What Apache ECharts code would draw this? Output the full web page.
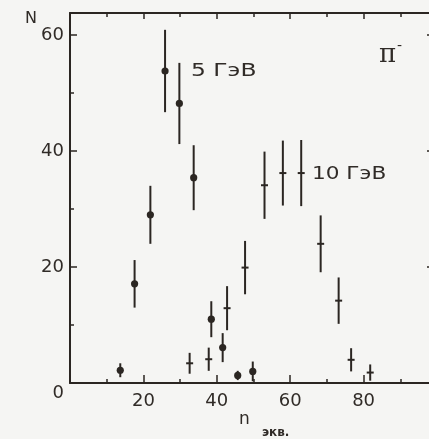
<!DOCTYPE html>
<html>
<head>
<meta charset="utf-8">
<script src="https://cdn.jsdelivr.net/npm/echarts@6/dist/echarts.min.js"></script>
<style>
  html, body { margin: 0; padding: 0; background: #f5f5f3; }
  #chart { width: 429px; height: 439px; }
</style>
</head>
<body>
<div id="chart"></div>
<script>
// π⁻ — распределение по n_экв, 5 и 10 ГэВ
const n5   = [13.7, 17.6, 21.9, 25.9, 29.8, 33.7, 38.5, 41.6, 45.7, 49.8];
const N5   = [2.2, 17.1, 29.0, 53.8, 48.2, 35.4, 11.0, 6.1, 1.3, 2.0];
const dN5  = [1.2, 4.1, 5.0, 7.1, 7.0, 5.6, 3.1, 2.5, 0.8, 1.7];

const n10  = [32.6, 37.8, 42.8, 47.7, 53.0, 58.0, 63.0, 68.3, 73.2, 76.6, 81.8];
const N10  = [3.4, 4.1, 12.9, 19.9, 34.1, 36.2, 36.2, 24.0, 14.2, 4.0, 1.8];
const dN10 = [1.8, 2.0, 3.8, 4.6, 5.8, 5.6, 5.7, 4.9, 4.0, 2.0, 1.4];

const xTicks = [20, 40, 60, 80];
const yTicks = [0, 20, 40, 60];

const INK = '#2b2622';
const TXT = '#302b27';
const FONT = 'DejaVu Sans';

const chart = echarts.init(document.getElementById('chart'), null, { renderer: 'canvas' });

// вертикальная ошибка + маркер (кружок или горизонтальная черта)
function errBar(kind) {
  return (params, api) => {
    const x = api.value(0), y = api.value(1), e = api.value(2);
    const p = api.coord([x, y]);
    const hi = api.coord([x, y + e]);
    const lo = api.coord([x, y - e]);
    const st = { stroke: INK, lineWidth: 2 };
    const kids = [{ type: 'line', shape: { x1: p[0], y1: hi[1], x2: p[0], y2: lo[1] }, style: st }];
    if (kind === 'dot') {
      kids.push({ type: 'circle', shape: { cx: p[0], cy: p[1], r: 3.6 }, style: { fill: INK } });
    } else {
      kids.push({ type: 'line', shape: { x1: p[0] - 3.5, y1: p[1], x2: p[0] + 3.5, y2: p[1] }, style: st });
    }
    return { type: 'group', children: kids };
  };
}

const axisLine = { show: true, onZero: false, lineStyle: { color: INK, width: 2 } };
const tickCommon = { show: true, inside: true, length: 8, lineStyle: { color: INK, width: 1.5 } };
const minorCommon = { show: true, splitNumber: 2, length: 4, lineStyle: { color: INK, width: 1.5 } };
const labelText = { color: TXT, fontSize: 18, fontFamily: FONT };

function note(text, x, y, font, sx) {
  return {
    type: 'text', x, y, scaleX: sx || 1,
    style: { text, font, fill: TXT, align: 'left', verticalAlign: 'middle' },
  };
}

chart.setOption({
  backgroundColor: '#f5f5f3',
  animation: false,
  grid: { left: 70, right: -8, top: 13, bottom: 56, outerBoundsMode: 'none', containLabel: false },
  xAxis: [
    {
      type: 'value', min: 0, max: 100, interval: 20, position: 'bottom',
      axisLine, axisTick: tickCommon, minorTick: minorCommon, splitLine: { show: false },
      axisLabel: {
        ...labelText, margin: 9, showMaxLabel: false,
        formatter: v => (xTicks.includes(v) ? String(v) : ''),
      },
    },
    {
      type: 'value', min: 0, max: 100, interval: 20, position: 'top',
      axisLine, axisTick: { ...tickCommon, length: 6 }, minorTick: minorCommon, splitLine: { show: false },
      axisLabel: { show: false },
    },
  ],
  yAxis: [
    {
      type: 'value', min: 0, max: 63.8, interval: 20, position: 'left',
      axisLine, axisTick: { ...tickCommon, length: 7 }, minorTick: minorCommon, splitLine: { show: false },
      axisLabel: {
        ...labelText, margin: 6, showMaxLabel: false,
        formatter: v => (v === 0 ? '{z|0}' : (yTicks.includes(v) ? String(v) : '')),
        rich: { z: { ...labelText, padding: [20, 0, 0, 0] } },
      },
    },
    {
      type: 'value', min: 0, max: 63.8, interval: 20, position: 'right',
      axisLine, axisTick: { ...tickCommon, length: 10 }, splitLine: { show: false },
      axisLabel: { show: false },
    },
  ],
  graphic: [
    note('N', 25, 19, '16px "DejaVu Sans"'),
    note('5 ГэВ', 191, 71, '18px "DejaVu Sans"', 1.3),
    note('10 ГэВ', 312, 174, '18px "DejaVu Sans"', 1.2),
    note('π', 379, 55, '26px "DejaVu Serif"'),
    note('-', 397, 46, '14px "DejaVu Sans"'),
    note('n', 239, 420, '17px "DejaVu Sans"'),
    note('экв.', 262, 433, 'bold 12px "DejaVu Sans"'),
  ],
  series: [
    {
      name: '5 ГэВ', type: 'custom', xAxisIndex: 0, yAxisIndex: 0,
      renderItem: errBar('dot'), encode: { x: 0, y: 1 },
      data: n5.map((x, i) => [x, N5[i], dN5[i]]),
    },
    {
      name: '10 ГэВ', type: 'custom', xAxisIndex: 0, yAxisIndex: 0,
      renderItem: errBar('tick'), encode: { x: 0, y: 1 },
      data: n10.map((x, i) => [x, N10[i], dN10[i]]),
    },
  ],
});
</script>
</body>
</html>
